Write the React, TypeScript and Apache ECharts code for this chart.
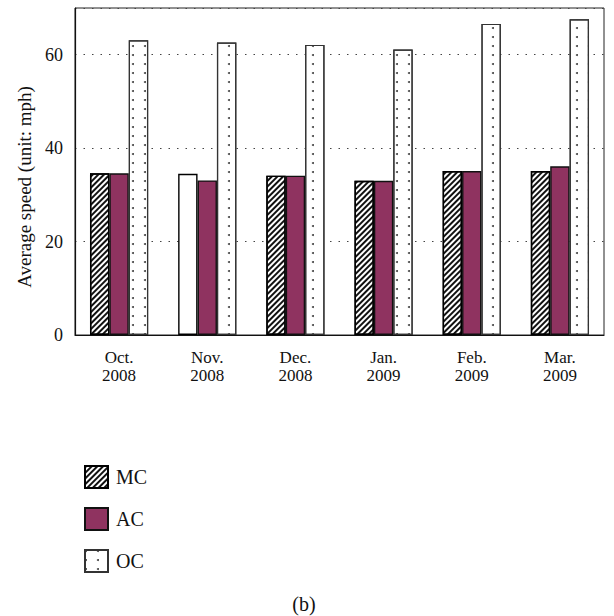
import React, { useEffect, useRef } from "react";
import * as echarts from "echarts";

const categories = ["Oct.\n2008", "Nov.\n2008", "Dec.\n2008", "Jan.\n2009", "Feb.\n2009", "Mar.\n2009"];
const mcValues = [34.6, 34.5, 34.1, 33.0, 35.1, 35.1];
const acValues = [34.6, 33.1, 34.1, 33.0, 35.1, 36.1];
const ocValues = [63.1, 62.6, 62.1, 61.1, 66.6, 67.6];
const seriesNames = ["MC", "AC", "OC"];
const yTitle = "Average speed (unit: mph)";
const caption = "(b)";

const FONT = "Liberation Serif";

export default function App() {
  const ref = useRef<HTMLDivElement>(null);
  useEffect(() => {
    if (!ref.current) return;
    const chart = echarts.init(ref.current, null, { renderer: "svg" });
    const hatch = {
      symbol: "rect",
      symbolSize: 1,
      color: "#111",
      dashArrayX: [1, 0],
      dashArrayY: [2, 1.6],
      rotation: -Math.PI / 4,
    };
    const dots = {
      symbol: "circle",
      symbolSize: 1,
      color: "#444",
      dashArrayX: [1.6, 9.6],
      dashArrayY: [1.6, 6.4],
      rotation: 0,
    };
    chart.setOption({
      animation: false,
      textStyle: { fontFamily: FONT, color: "#111" },
      grid: {
        left: 75,
        right: 10,
        top: 8,
        bottom: 281,
        show: true,
        borderColor: "#222",
        borderWidth: 1,
        backgroundColor: "transparent",
      },
      legend: {
        orient: "vertical",
        left: 79,
        top: 460,
        itemWidth: 23,
        itemHeight: 22,
        itemGap: 18,
        icon: "rect",
        data: seriesNames,
        textStyle: { fontFamily: FONT, fontSize: 20, lineHeight: 22, color: "#111", padding: [0, 0, 0, 3] },
      },
      xAxis: {
        type: "category",
        data: categories,
        axisLine: { lineStyle: { color: "#111", width: 1.2 } },
        axisTick: { inside: true, length: 6, lineStyle: { color: "#111" } },
        axisLabel: {
          fontFamily: FONT,
          fontSize: 17,
          color: "#111",
          lineHeight: 18,
          margin: 13,
        },
      },
      yAxis: {
        type: "value",
        min: 0,
        max: 70,
        interval: 20,
        axisLine: { show: true, lineStyle: { color: "#111", width: 1.2 } },
        axisTick: { show: false },
        axisLabel: {
          fontFamily: FONT,
          fontSize: 18,
          color: "#111",
          margin: 12,
          showMaxLabel: false,
        },
        splitLine: {
          show: true,
          lineStyle: { color: "#444", type: [1.5, 7], width: 1 },
        },
      },
      graphic: [
        {
          type: "text",
          x: 24,
          y: 187,
          rotation: Math.PI / 2,
          style: {
            text: yTitle,
            fontFamily: FONT,
            fontSize: 19,
            fill: "#111",
            align: "center",
            verticalAlign: "middle",
          },
        },
        {
          type: "text",
          x: 304,
          y: 604,
          style: {
            text: caption,
            fontFamily: FONT,
            fontSize: 20,
            fill: "#111",
            align: "center",
            verticalAlign: "middle",
          },
        },
      ],
      series: [
        {
          name: seriesNames[0],
          type: "bar",
          barGap: "0%",
          barCategoryGap: "34%",
          data: mcValues.map((v, i) =>
            i === 1 ? { value: v, itemStyle: { decal: "none" } } : v
          ),
          itemStyle: { color: "#fff", borderColor: "#000", borderWidth: 1.4, decal: hatch },
        },
        {
          name: seriesNames[1],
          type: "bar",
          data: acValues,
          itemStyle: { color: "#8f3360", borderColor: "#111", borderWidth: 1.4 },
        },
        {
          name: seriesNames[2],
          type: "bar",
          data: ocValues,
          itemStyle: { color: "#fff", borderColor: "#333", borderWidth: 1.2, decal: dots },
        },
      ],
    });
    return () => chart.dispose();
  }, []);
  return <div ref={ref} style={{ width: 614, height: 616, position: "absolute", left: 0, top: 0 }} />;
}
